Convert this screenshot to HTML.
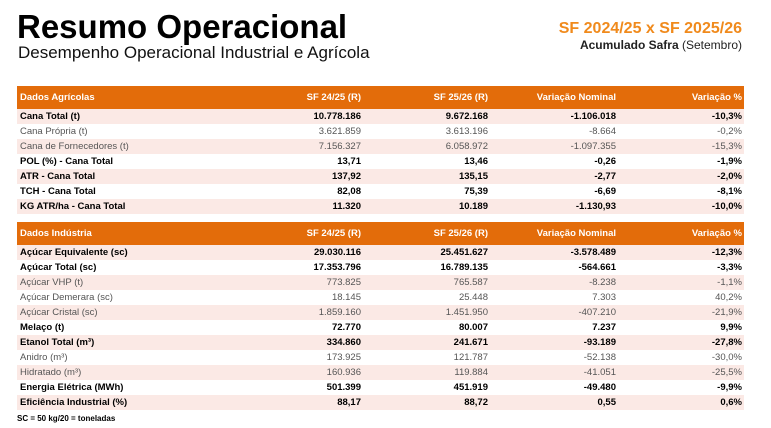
<!DOCTYPE html>
<html><head><meta charset="utf-8"><style>
body{margin:0;width:771px;height:428px;background:#fff;font-family:"Liberation Sans",sans-serif;position:relative;overflow:hidden}
.t{position:absolute;left:17px;top:8px;font-size:33px;font-weight:bold;color:#000;letter-spacing:0px}
.s{position:absolute;left:18px;top:43px;font-size:17px;color:#111}
.r1{position:absolute;right:29px;top:20px;font-size:16px;font-weight:bold;color:#f08a1c}
.r2{position:absolute;right:29px;top:38px;font-size:12px;color:#222}
table{position:absolute;left:17px;width:727px;border-collapse:collapse;font-size:9.5px}
td{height:15px;padding:0 2px;text-align:right;white-space:nowrap}
td:first-child{text-align:left;padding-left:3px}
tr.h td{background:#e36c0a;color:#fff;font-weight:bold;height:23px}
tr.p td{background:#fbe9e5}
tr.b td{font-weight:bold;color:#000}
tr.g td{color:#555}
.f{position:absolute;left:17px;top:414px;font-size:8px;font-weight:bold}
</style></head><body>
<div class="t">Resumo Operacional</div>
<div class="s">Desempenho Operacional Industrial e Agrícola</div>
<div class="r1">SF 2024/25 x SF 2025/26</div>
<div class="r2"><b>Acumulado Safra</b> (Setembro)</div>
<table style="top:86px">
<colgroup><col style="width:216px"><col style="width:130px"><col style="width:127px"><col style="width:128px"><col style="width:126px"></colgroup>
<tr class="h"><td>Dados Agrícolas</td><td>SF 24/25 (R)</td><td>SF 25/26 (R)</td><td>Variação Nominal</td><td>Variação %</td></tr>
<tr class="p b"><td>Cana Total (t)</td><td>10.778.186</td><td>9.672.168</td><td>-1.106.018</td><td>-10,3%</td></tr>
<tr class="g"><td>Cana Própria (t)</td><td>3.621.859</td><td>3.613.196</td><td>-8.664</td><td>-0,2%</td></tr>
<tr class="p g"><td>Cana de Fornecedores (t)</td><td>7.156.327</td><td>6.058.972</td><td>-1.097.355</td><td>-15,3%</td></tr>
<tr class="b"><td>POL (%) - Cana Total</td><td>13,71</td><td>13,46</td><td>-0,26</td><td>-1,9%</td></tr>
<tr class="p b"><td>ATR - Cana Total</td><td>137,92</td><td>135,15</td><td>-2,77</td><td>-2,0%</td></tr>
<tr class="b"><td>TCH - Cana Total</td><td>82,08</td><td>75,39</td><td>-6,69</td><td>-8,1%</td></tr>
<tr class="p b"><td>KG ATR/ha - Cana Total</td><td>11.320</td><td>10.189</td><td>-1.130,93</td><td>-10,0%</td></tr>
</table>
<table style="top:222px">
<colgroup><col style="width:216px"><col style="width:130px"><col style="width:127px"><col style="width:128px"><col style="width:126px"></colgroup>
<tr class="h"><td>Dados Indústria</td><td>SF 24/25 (R)</td><td>SF 25/26 (R)</td><td>Variação Nominal</td><td>Variação %</td></tr>
<tr class="p b"><td>Açúcar Equivalente (sc)</td><td>29.030.116</td><td>25.451.627</td><td>-3.578.489</td><td>-12,3%</td></tr>
<tr class="b"><td>Açúcar Total (sc)</td><td>17.353.796</td><td>16.789.135</td><td>-564.661</td><td>-3,3%</td></tr>
<tr class="p g"><td>Açúcar VHP (t)</td><td>773.825</td><td>765.587</td><td>-8.238</td><td>-1,1%</td></tr>
<tr class="g"><td>Açúcar Demerara (sc)</td><td>18.145</td><td>25.448</td><td>7.303</td><td>40,2%</td></tr>
<tr class="p g"><td>Açúcar Cristal (sc)</td><td>1.859.160</td><td>1.451.950</td><td>-407.210</td><td>-21,9%</td></tr>
<tr class="b"><td>Melaço (t)</td><td>72.770</td><td>80.007</td><td>7.237</td><td>9,9%</td></tr>
<tr class="p b"><td>Etanol Total (m³)</td><td>334.860</td><td>241.671</td><td>-93.189</td><td>-27,8%</td></tr>
<tr class="g"><td>Anidro (m³)</td><td>173.925</td><td>121.787</td><td>-52.138</td><td>-30,0%</td></tr>
<tr class="p g"><td>Hidratado (m³)</td><td>160.936</td><td>119.884</td><td>-41.051</td><td>-25,5%</td></tr>
<tr class="b"><td>Energia Elétrica (MWh)</td><td>501.399</td><td>451.919</td><td>-49.480</td><td>-9,9%</td></tr>
<tr class="p b"><td>Eficiência Industrial (%)</td><td>88,17</td><td>88,72</td><td>0,55</td><td>0,6%</td></tr>
</table>
<div class="f">SC = 50 kg/20 = toneladas</div>
</body></html>
